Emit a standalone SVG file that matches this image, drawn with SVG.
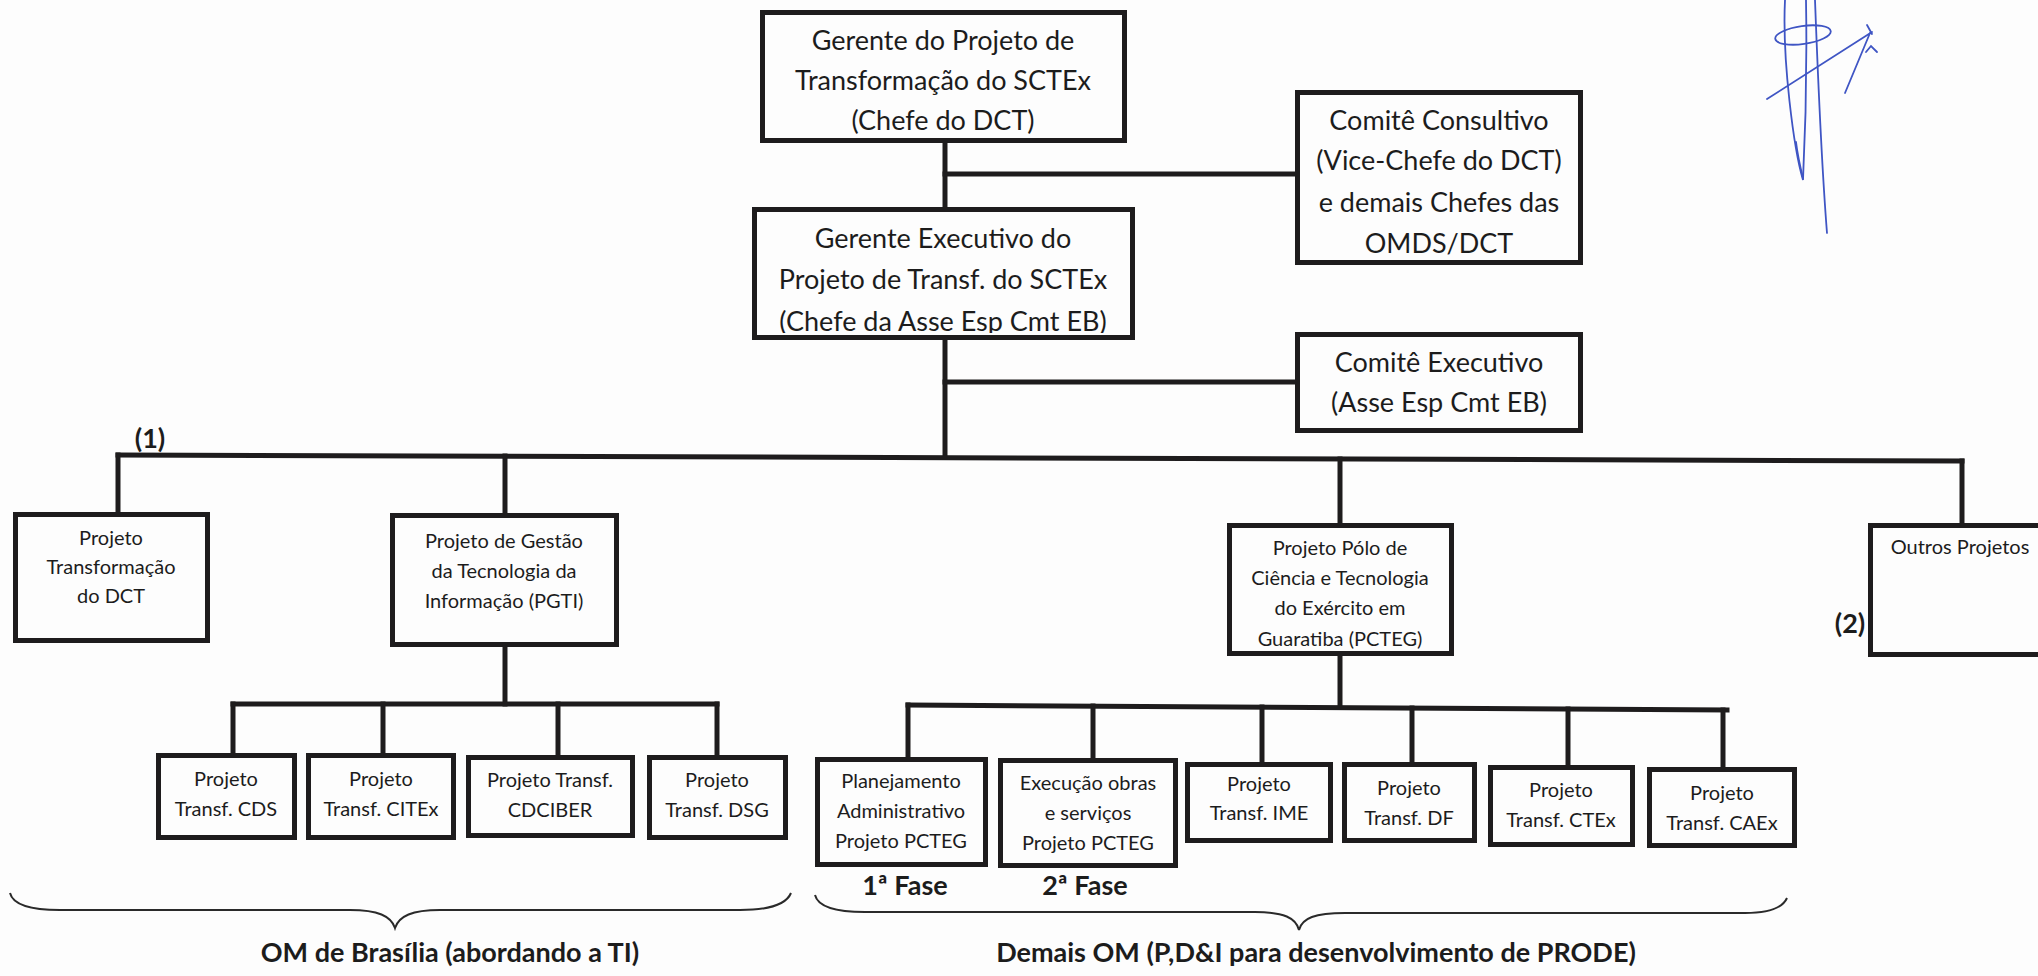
<svg xmlns="http://www.w3.org/2000/svg" width="2038" height="976" viewBox="0 0 2038 976">
<style>
.box{fill:none;stroke:#1e1c1d;stroke-width:5}
.ln{fill:none;stroke:#1e1c1d;stroke-width:5;stroke-linecap:square}
.br{fill:none;stroke:#2a2a2a;stroke-width:2}
.t1{font-family:Lato,"Liberation Sans",sans-serif;font-size:27px;fill:#1c1c1c;text-anchor:middle}
.t2{font-family:Lato,"Liberation Sans",sans-serif;font-size:20px;fill:#1c1c1c;text-anchor:middle}
.tb{font-family:Lato,"Liberation Sans",sans-serif;font-size:27px;font-weight:bold;fill:#1c1c1c;text-anchor:middle}
.sig{fill:none;stroke:#3f55c4;stroke-width:1.8;stroke-linecap:round}
</style>
<defs>
<clipPath id="cTop"><rect x="765" y="15" width="357" height="123"/></clipPath>
<clipPath id="cExec"><rect x="757" y="212" width="373" height="121"/></clipPath>
<clipPath id="cPcteg"><rect x="1232" y="527" width="217" height="124"/></clipPath>
</defs>
<rect width="2038" height="976" fill="#fdfdfd"/>

<g id="connectors">
<path class="ln" d="M945,143 V207"/>
<path class="ln" d="M945,174 H1295"/>
<path class="ln" d="M945,340 V457"/>
<path class="ln" d="M945,382 H1295"/>
<path class="ln" d="M118,455 L1962,461"/>
<path class="ln" d="M118,455 V512"/>
<path class="ln" d="M505,456 V513"/>
<path class="ln" d="M1340,459 V523"/>
<path class="ln" d="M1962,461 V523"/>
<path class="ln" d="M505,647 V704"/>
<path class="ln" d="M233,704 H717"/>
<path class="ln" d="M233,704 V753"/>
<path class="ln" d="M383,704 V753"/>
<path class="ln" d="M558,704 V755"/>
<path class="ln" d="M717,704 V755"/>
<path class="ln" d="M1340,656 V707"/>
<path class="ln" d="M908,705 L1727,710"/>
<path class="ln" d="M908,705 V757"/>
<path class="ln" d="M1093,706 V758"/>
<path class="ln" d="M1262,707 V762"/>
<path class="ln" d="M1412,708 V762"/>
<path class="ln" d="M1568,709 V765"/>
<path class="ln" d="M1723,710 V767"/>
</g>

<g id="n-gerente">
<rect class="box" x="762.5" y="12.5" width="362" height="128"/>
<g clip-path="url(#cTop)">
<text class="t1" x="943" y="50">Gerente do Projeto de</text>
<text class="t1" x="943" y="90">Transformação do SCTEx</text>
<text class="t1" x="943" y="130">(Chefe do DCT)</text>
</g>
</g>

<g id="n-consultivo">
<rect class="box" x="1297.5" y="92.5" width="283" height="170"/>
<text class="t1" x="1439" y="130">Comitê Consultivo</text>
<text class="t1" x="1439" y="170">(Vice-Chefe do DCT)</text>
<text class="t1" x="1439" y="212">e demais Chefes das</text>
<text class="t1" x="1439" y="253">OMDS/DCT</text>
</g>

<g id="n-executivo">
<rect class="box" x="754.5" y="209.5" width="378" height="128"/>
<g clip-path="url(#cExec)">
<text class="t1" x="943" y="248">Gerente Executivo do</text>
<text class="t1" x="943" y="289">Projeto de Transf. do SCTEx</text>
<text class="t1" x="943" y="331">(Chefe da Asse Esp Cmt EB)</text>
</g>
</g>

<g id="n-comite-exec">
<rect class="box" x="1297.5" y="334.5" width="283" height="96"/>
<text class="t1" x="1439" y="372">Comitê Executivo</text>
<text class="t1" x="1439" y="412">(Asse Esp Cmt EB)</text>
</g>

<text class="tb" x="150" y="448">(1)</text>

<g id="n-dct">
<rect class="box" x="15.5" y="514.5" width="192" height="126"/>
<text class="t2" x="111" y="545">Projeto</text>
<text class="t2" x="111" y="574">Transformação</text>
<text class="t2" x="111" y="603">do DCT</text>
</g>

<g id="n-pgti">
<rect class="box" x="392.5" y="515.5" width="224" height="129"/>
<text class="t2" x="504" y="548">Projeto de Gestão</text>
<text class="t2" x="504" y="578">da Tecnologia da</text>
<text class="t2" x="504" y="608">Informação (PGTI)</text>
</g>

<g id="n-pcteg">
<rect class="box" x="1229.5" y="525.5" width="222" height="128"/>
<g clip-path="url(#cPcteg)">
<text class="t2" x="1340" y="555">Projeto Pólo de</text>
<text class="t2" x="1340" y="585">Ciência e Tecnologia</text>
<text class="t2" x="1340" y="615">do Exército em</text>
<text class="t2" x="1340" y="646">Guaratiba (PCTEG)</text>
</g>
</g>

<g id="n-outros">
<rect class="box" x="1870.5" y="525.5" width="200" height="129"/>
<text class="t2" x="1960" y="554">Outros Projetos</text>
</g>
<text class="tb" x="1850" y="633">(2)</text>

<g id="n-cds">
<rect class="box" x="158.5" y="755.5" width="136" height="82"/>
<text class="t2" x="226" y="786">Projeto</text>
<text class="t2" x="226" y="816">Transf. CDS</text>
</g>
<g id="n-citex">
<rect class="box" x="308.5" y="755.5" width="145" height="82"/>
<text class="t2" x="381" y="786">Projeto</text>
<text class="t2" x="381" y="816">Transf. CITEx</text>
</g>
<g id="n-cdciber">
<rect class="box" x="468.5" y="757.5" width="164" height="78"/>
<text class="t2" x="550" y="787">Projeto Transf.</text>
<text class="t2" x="550" y="817">CDCIBER</text>
</g>
<g id="n-dsg">
<rect class="box" x="649.5" y="757.5" width="136" height="80"/>
<text class="t2" x="717" y="787">Projeto</text>
<text class="t2" x="717" y="817">Transf. DSG</text>
</g>

<g id="n-planejamento">
<rect class="box" x="817.5" y="759.5" width="168" height="105"/>
<text class="t2" x="901" y="788">Planejamento</text>
<text class="t2" x="901" y="818">Administrativo</text>
<text class="t2" x="901" y="848">Projeto PCTEG</text>
</g>
<g id="n-execucao">
<rect class="box" x="1000.5" y="760.5" width="175" height="105"/>
<text class="t2" x="1088" y="790">Execução obras</text>
<text class="t2" x="1088" y="820">e serviços</text>
<text class="t2" x="1088" y="850">Projeto PCTEG</text>
</g>
<g id="n-ime">
<rect class="box" x="1187.5" y="764.5" width="143" height="76"/>
<text class="t2" x="1259" y="791">Projeto</text>
<text class="t2" x="1259" y="820">Transf. IME</text>
</g>
<g id="n-df">
<rect class="box" x="1344.5" y="764.5" width="130" height="76"/>
<text class="t2" x="1409" y="795">Projeto</text>
<text class="t2" x="1409" y="825">Transf. DF</text>
</g>
<g id="n-ctex">
<rect class="box" x="1490.5" y="767.5" width="142" height="77"/>
<text class="t2" x="1561" y="797">Projeto</text>
<text class="t2" x="1561" y="827">Transf. CTEx</text>
</g>
<g id="n-caex">
<rect class="box" x="1649.5" y="769.5" width="145" height="76"/>
<text class="t2" x="1722" y="800">Projeto</text>
<text class="t2" x="1722" y="830">Transf. CAEx</text>
</g>

<text class="tb" x="905" y="895">1ª Fase</text>
<text class="tb" x="1085" y="895">2ª Fase</text>

<g id="braces">
<path class="br" d="M10,893 C13,905 30,910 60,910 L350,910 C378,910 391,916 395,928 C399,916 412,910 440,910 L740,910 C768,910 786,905 791,893"/>
<path class="br" d="M815,895 C818,907 835,912 865,912 L1255,912 C1284,912 1296,918 1299,930 C1302,918 1315,913 1345,913 L1745,913 C1770,913 1783,907 1787,898"/>
</g>
<text class="tb" x="450" y="962">OM de Brasília (abordando a TI)</text>
<text class="tb" x="1316" y="962">Demais OM (P,D&amp;I para desenvolvimento de PRODE)</text>

<g id="signature">
<path class="sig" d="M1785,0 C1782,60 1794,150 1803,180 C1806,120 1807,60 1806,0"/>
<path class="sig" d="M1815,0 C1818,80 1822,170 1827,233"/>
<path class="sig" d="M1796,142 C1798,158 1801,170 1803,178"/>
<ellipse class="sig" cx="1803" cy="35" rx="28" ry="9" transform="rotate(-8 1803 35)"/>
<path class="sig" d="M1767,99 L1872,32"/>
<path class="sig" d="M1845,93 L1870,33 M1867,25 L1872,34 M1866,52 L1871,46 L1877,52"/>
</g>
</svg>
